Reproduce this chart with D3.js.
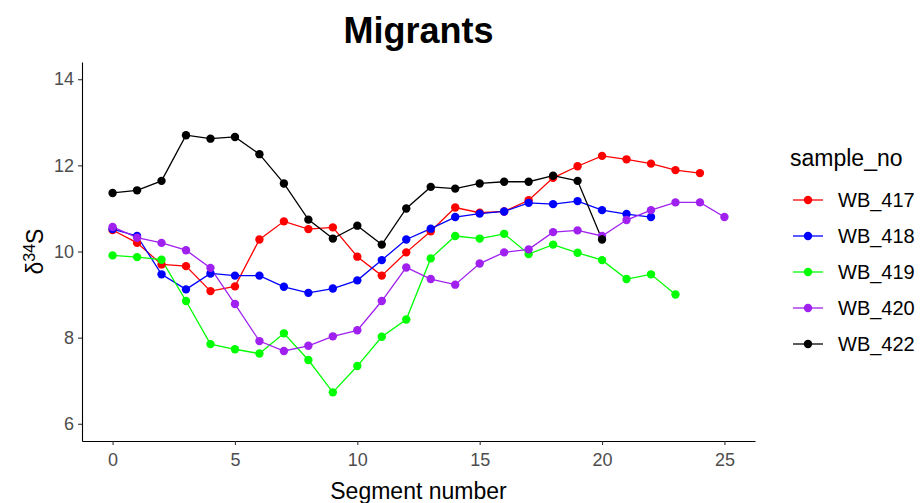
<!DOCTYPE html>
<html>
<head>
<meta charset="utf-8">
<script src="https://cdn.jsdelivr.net/npm/d3@7"></script>
<style>
  body { margin: 0; background: #fff; }
  svg { display: block; font-family: "Liberation Sans", Arial, sans-serif; }
</style>
</head>
<body>
<svg id="chart" width="920" height="503"></svg>
<script>
const seriesNames = ["WB_417", "WB_418", "WB_419", "WB_420", "WB_422"];
const seriesColors = ["#FF0000", "#0000FF", "#00FF00", "#A020F0", "#000000"];

const wb417 = [10.50, 10.20, 9.70, 9.66, 9.08, 9.19, 10.28, 10.70, 10.52, 10.56, 9.88, 9.44, 9.98, 10.47, 11.02, 10.90, 10.93, 11.19, 11.71, 11.98, 12.22, 12.14, 12.04, 11.89, 11.82];
const wb418 = [10.52, 10.36, 9.47, 9.12, 9.49, 9.44, 9.44, 9.18, 9.04, 9.14, 9.33, 9.80, 10.28, 10.53, 10.80, 10.88, 10.93, 11.13, 11.10, 11.17, 10.96, 10.87, 10.80];
const wb419 = [9.91, 9.87, 9.81, 8.85, 7.85, 7.73, 7.63, 8.10, 7.48, 6.73, 7.34, 8.02, 8.42, 9.84, 10.36, 10.30, 10.41, 9.94, 10.16, 9.97, 9.80, 9.36, 9.47, 9.00];
const wb420 = [10.57, 10.32, 10.20, 10.03, 9.62, 8.78, 7.92, 7.69, 7.81, 8.03, 8.17, 8.85, 9.63, 9.36, 9.23, 9.72, 9.98, 10.05, 10.45, 10.49, 10.36, 10.73, 10.96, 11.14, 11.14, 10.80];
const wb422 = [11.36, 11.42, 11.64, 12.70, 12.62, 12.66, 12.26, 11.58, 10.74, 10.30, 10.60, 10.16, 11.00, 11.50, 11.46, 11.58, 11.62, 11.62, 11.76, 11.64, 10.28];

const xTicks = [0, 5, 10, 15, 20, 25];
const yTicks = [6, 8, 10, 12, 14];

const seriesValues = [wb417, wb418, wb419, wb420, wb422];
const series = seriesNames.map((name, i) => ({
  name, color: seriesColors[i],
  values: seriesValues[i].map((v, j) => ({ x: j, y: v }))
}));

const svg = d3.select("#chart");
const panel = { left: 82, right: 755, top: 62, bottom: 441 };

const x = d3.scaleLinear().domain([-1.25, 26.25]).range([panel.left, panel.right]);
const y = d3.scaleLinear().domain([5.6, 14.4]).range([panel.bottom, panel.top]);

// Axes
const xAxis = svg.append("g")
  .attr("transform", `translate(0,${panel.bottom})`)
  .call(d3.axisBottom(x).tickValues(xTicks).tickSize(4).tickSizeOuter(0).tickPadding(4));
const yAxis = svg.append("g")
  .attr("transform", `translate(${panel.left},0)`)
  .call(d3.axisLeft(y).tickValues(yTicks).tickSize(4).tickSizeOuter(0).tickPadding(4));

[xAxis, yAxis].forEach(g => {
  g.select(".domain").attr("stroke", "#000").attr("stroke-width", 1.1);
  g.selectAll(".tick line").attr("stroke", "#333").attr("stroke-width", 1.1);
  g.selectAll(".tick text").attr("fill", "#4D4D4D").style("font-size", "18px")
    .style("font-family", "'Liberation Sans', Arial, sans-serif");
});
xAxis.selectAll(".tick text").attr("dy", "0.95em");

// Lines
const line = d3.line().x(d => x(d.x)).y(d => y(d.y));
svg.append("g").selectAll("path").data(series).join("path")
  .attr("d", d => line(d.values))
  .attr("fill", "none")
  .attr("stroke", d => d.color)
  .attr("stroke-width", 1.3);

// Points
series.forEach(s => {
  svg.append("g").selectAll("circle").data(s.values).join("circle")
    .attr("cx", d => x(d.x)).attr("cy", d => y(d.y))
    .attr("r", 4.2).attr("fill", s.color);
});

// Title
svg.append("text").attr("x", (panel.left + panel.right) / 2).attr("y", 43)
  .attr("text-anchor", "middle").style("font-size", "36px").style("font-weight", "bold")
  .attr("fill", "#000").text("Migrants");

// X axis title
svg.append("text").attr("x", (panel.left + panel.right) / 2).attr("y", 499)
  .attr("text-anchor", "middle").style("font-size", "23px").attr("fill", "#000")
  .text("Segment number");

// Y axis title
const yt = svg.append("text")
  .attr("transform", `translate(43,${(panel.top + panel.bottom) / 2}) rotate(-90)`)
  .attr("text-anchor", "middle").style("font-size", "23px").attr("fill", "#000");
yt.append("tspan").text("δ");
yt.append("tspan").attr("baseline-shift", "super").style("font-size", "16px").text("34");
yt.append("tspan").text("S");

// Legend
const legend = svg.append("g");
legend.append("text").attr("x", 790).attr("y", 166).style("font-size", "23px")
  .attr("fill", "#000").text("sample_no");
const lg = legend.selectAll("g.item").data(series).join("g").attr("class", "item")
  .attr("transform", (d, i) => `translate(0,${200 + i * 36})`);
lg.append("line").attr("x1", 793).attr("x2", 823).attr("y1", 0).attr("y2", 0)
  .attr("stroke", d => d.color).attr("stroke-width", 1.3);
lg.append("circle").attr("cx", 808).attr("cy", 0).attr("r", 4.2).attr("fill", d => d.color);
lg.append("text").attr("x", 838).attr("y", 0).attr("dy", "0.36em")
  .style("font-size", "20px").attr("fill", "#000").text(d => d.name);
</script>
</body>
</html>
